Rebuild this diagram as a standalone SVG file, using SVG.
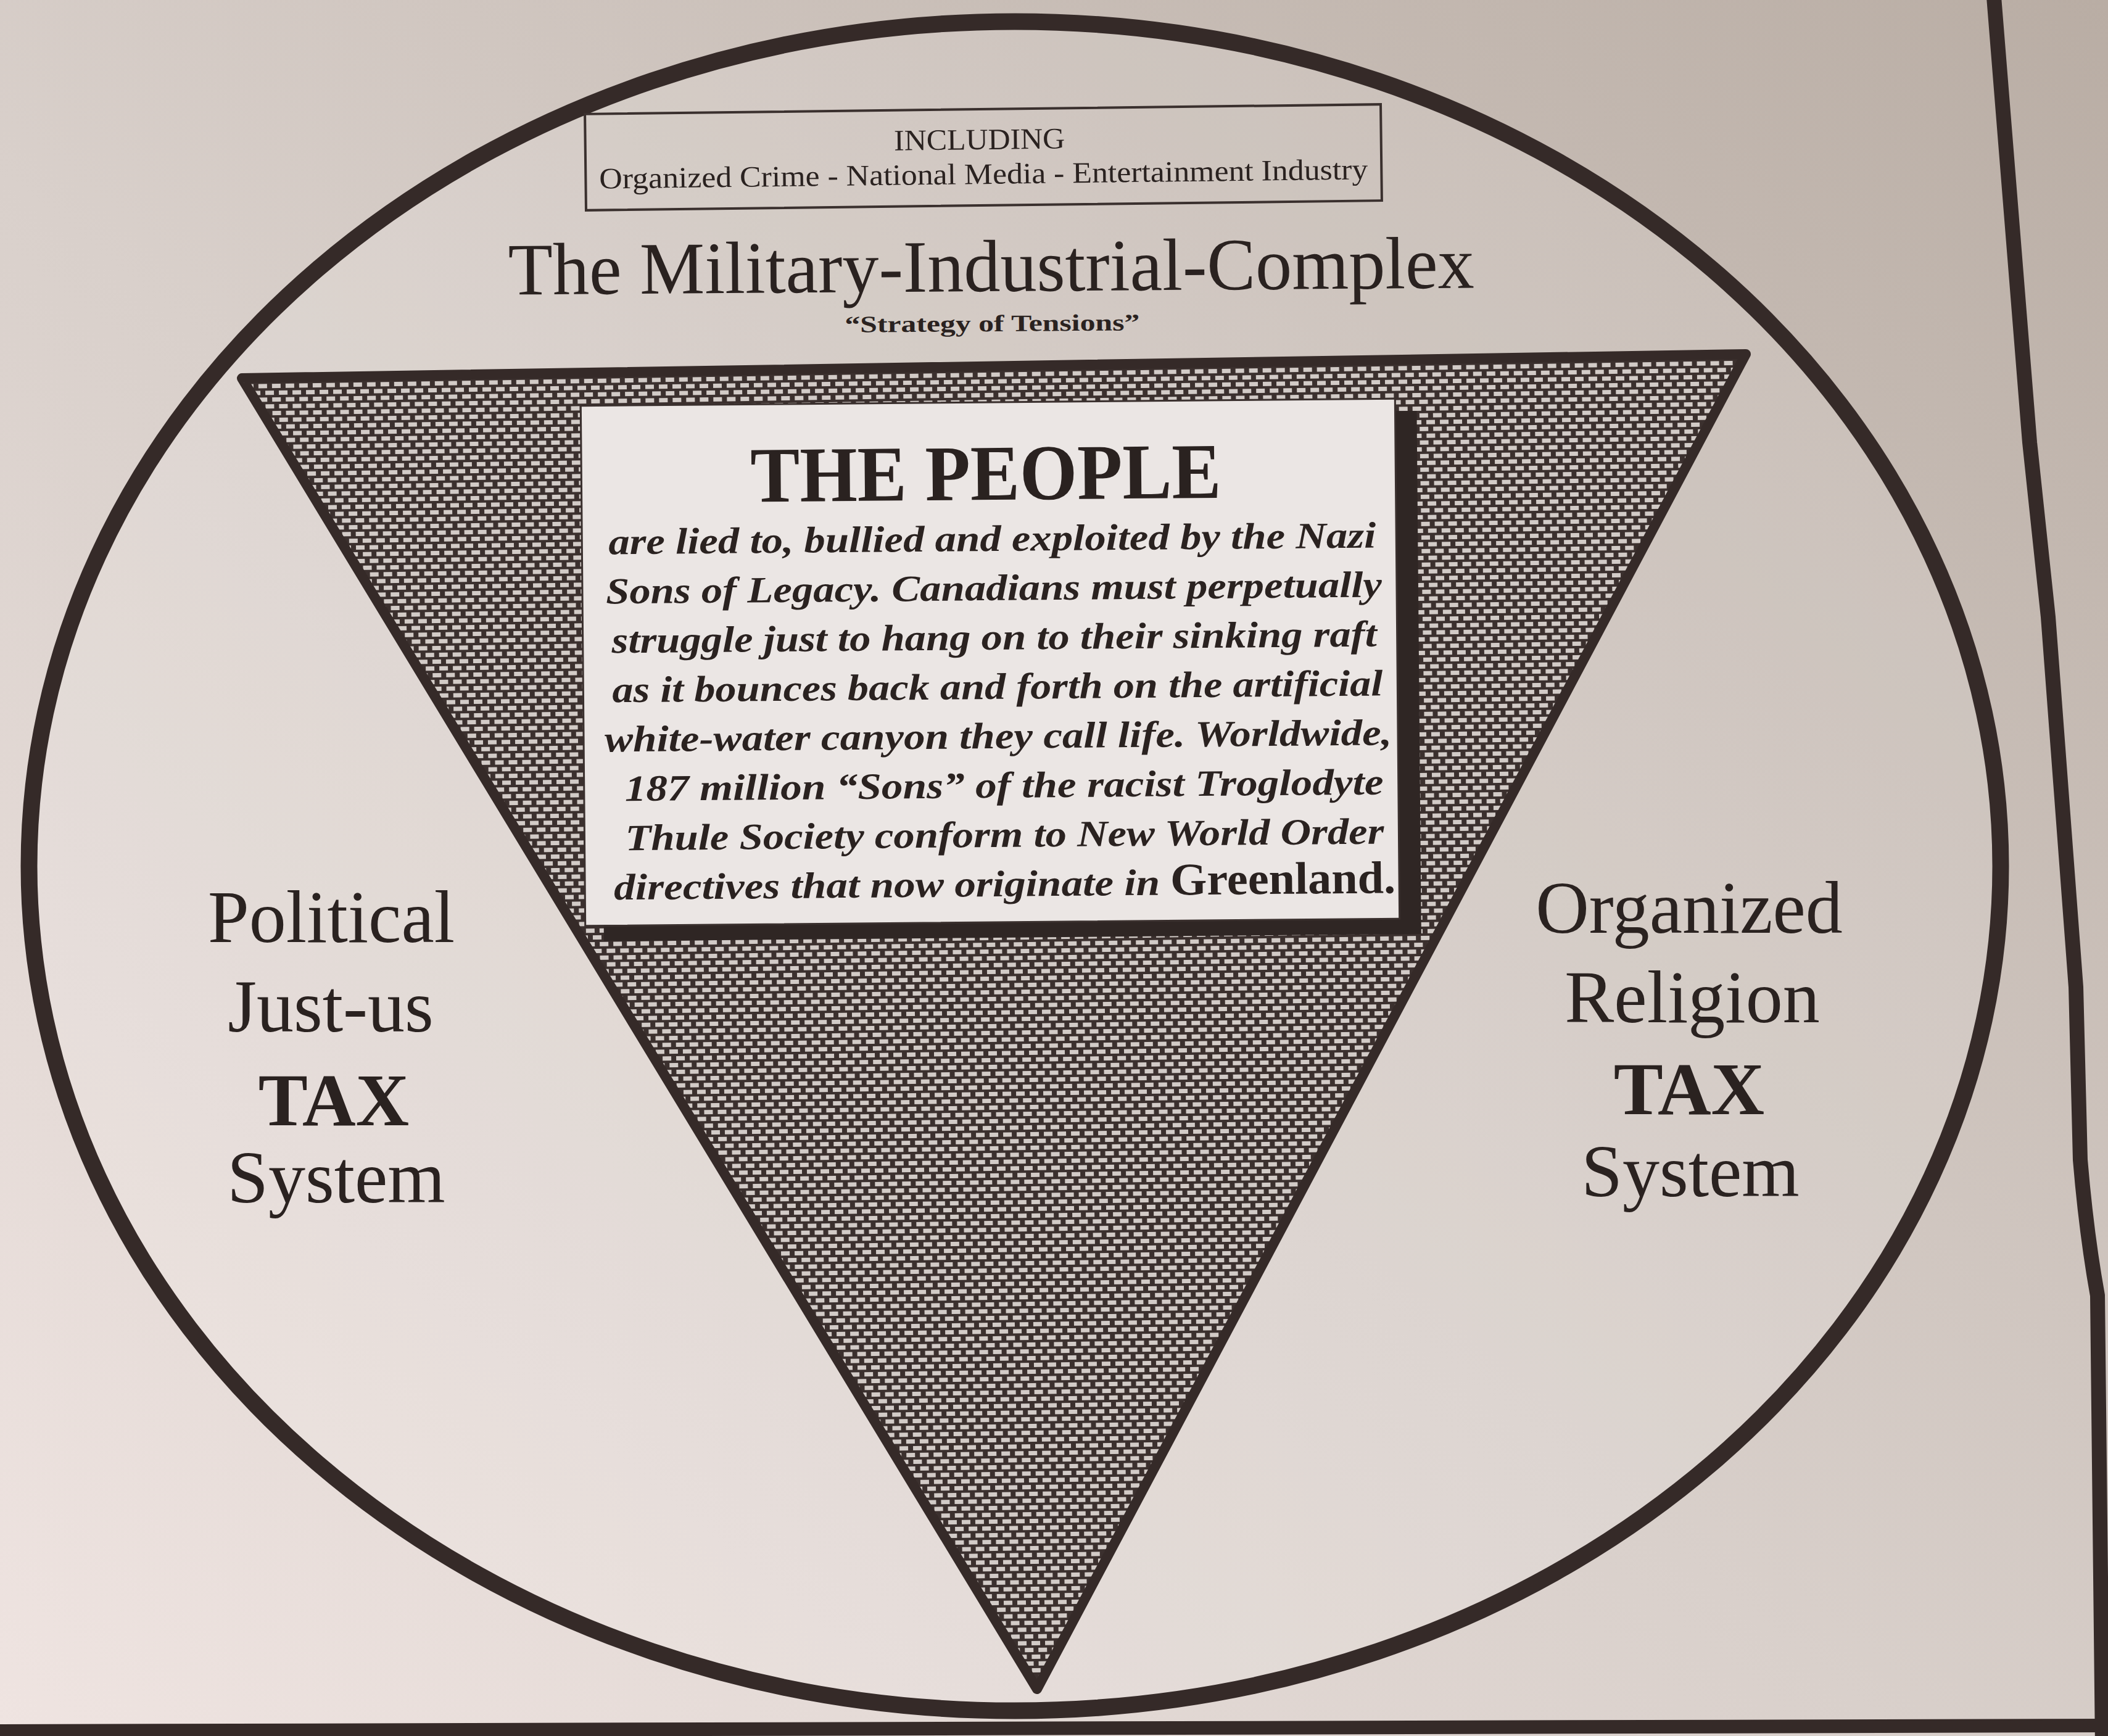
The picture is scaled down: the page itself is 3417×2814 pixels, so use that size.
<svg xmlns="http://www.w3.org/2000/svg" width="3417" height="2814" viewBox="0 0 3417 2814">
  <defs>
    <linearGradient id="paper" x1="0" y1="1" x2="1" y2="0">
      <stop offset="0" stop-color="#efe4e1"/>
      <stop offset="0.45" stop-color="#d9d0cb"/>
      <stop offset="1" stop-color="#b9ada4"/>
    </linearGradient>
    <pattern id="brick" patternUnits="userSpaceOnUse" width="22" height="22" patternTransform="rotate(-0.9)">
      <rect width="22" height="22" fill="#3b302e"/>
      <rect x="2" y="2" width="14" height="7" fill="#d2cbc7"/>
      <rect x="13" y="13" width="14" height="7" fill="#d2cbc7"/>
      <rect x="-9" y="13" width="14" height="7" fill="#d2cbc7"/>
    </pattern>
    <style>
      .ink { fill: #2a2220; }
      .serif { font-family: "Liberation Serif", "Times New Roman", serif; }
      .stroke { stroke: #352a28; fill: none; }
      .side { font-family: "Liberation Serif", "Times New Roman", serif; font-size: 120px; fill: #2a2220; text-anchor: middle; }
      .body { font-family: "Liberation Serif", "Times New Roman", serif; font-size: 60px; font-weight: bold; font-style: italic; fill: #2a2220; }
    </style>
  </defs>

  <!-- paper background -->
  <rect width="3417" height="2814" fill="url(#paper)"/>

  <!-- page frame -->
  <g id="frame">
    <path class="stroke" stroke-width="24" d="M3232,-5 L3290,717 L3320,1000 L3365,1600 L3372,1880 Q3382,2000 3400,2100 L3408,2830"/>
    <path class="stroke" stroke-width="22" d="M-10,2806 L3430,2797"/>
  </g>

  <!-- big circle -->
  <g id="circle">
    <ellipse cx="1645" cy="1404" rx="1598" ry="1369" fill-opacity="0.12" class="stroke" stroke-width="27" style="fill:#ffffff"/>
  </g>

  <!-- inverted triangle -->
  <g id="triangle">
    <polygon points="392,613 2830,574 1681,2738" fill="url(#brick)" stroke="#352a28" stroke-width="16" stroke-linejoin="round"/>
  </g>

  <!-- top box -->
  <g id="including-box" transform="rotate(-0.7 1594 255)">
    <rect x="949" y="177" width="1290" height="156" fill="none" stroke="#3a302e" stroke-width="4"/>
    <text class="serif ink" x="1588" y="242" font-size="48" text-anchor="middle" textLength="277" lengthAdjust="spacingAndGlyphs">INCLUDING</text>
    <text class="serif ink" x="971" y="298" font-size="48" textLength="1246" lengthAdjust="spacingAndGlyphs">Organized Crime - National Media - Entertainment Industry</text>
  </g>

  <!-- title -->
  <g id="title" transform="rotate(-0.4 1607 480)">
    <text class="serif ink" x="824" y="472" font-size="120" textLength="1566" lengthAdjust="spacingAndGlyphs">The Military-Industrial-Complex</text>
    <text class="serif ink" x="1369" y="537" font-size="38" font-weight="bold" textLength="478" lengthAdjust="spacingAndGlyphs">“Strategy of Tensions”</text>
  </g>

  <!-- the people box -->
  <g id="people-box" transform="rotate(-0.5 1605 1073)">
    <rect x="975" y="672" width="1325" height="848" fill="#2f2624"/>
    <rect x="945" y="652" width="1320" height="843" fill="#ebe6e4" stroke="#3a302e" stroke-width="3"/>
    <text class="serif ink" x="1219" y="810" font-size="128" font-weight="bold" textLength="763" lengthAdjust="spacingAndGlyphs">THE PEOPLE</text>
    <text class="body" x="988" y="893" textLength="1244" lengthAdjust="spacingAndGlyphs">are lied to, bullied and exploited by the Nazi</text>
    <text class="body" x="983" y="973" textLength="1258" lengthAdjust="spacingAndGlyphs">Sons of Legacy. Canadians must perpetually</text>
    <text class="body" x="992" y="1053" textLength="1240" lengthAdjust="spacingAndGlyphs">struggle just to hang on to their sinking raft</text>
    <text class="body" x="992" y="1133" textLength="1249" lengthAdjust="spacingAndGlyphs">as it bounces back and forth on the artificial</text>
    <text class="body" x="979" y="1213" textLength="1276" lengthAdjust="spacingAndGlyphs">white-water canyon they call life.  Worldwide,</text>
    <text class="body" x="1011" y="1293" textLength="1230" lengthAdjust="spacingAndGlyphs">187 million “Sons” of the racist Troglodyte</text>
    <text class="body" x="1011" y="1373" textLength="1230" lengthAdjust="spacingAndGlyphs">Thule Society conform to New World Order</text>
    <text class="body" x="992" y="1453" textLength="885" lengthAdjust="spacingAndGlyphs">directives that now originate in</text>
    <text class="serif ink" x="1894" y="1453" font-size="74" font-weight="bold" textLength="365" lengthAdjust="spacingAndGlyphs">Greenland.</text>
  </g>

  <!-- left label -->
  <g id="left-label">
    <text class="side" x="537" y="1527">Political</text>
    <text class="side" x="536" y="1672">Just-us</text>
    <text class="side" x="541" y="1824" font-weight="bold">TAX</text>
    <text class="side" x="545" y="1949">System</text>
  </g>

  <!-- right label -->
  <g id="right-label">
    <text class="side" x="2738" y="1512">Organized</text>
    <text class="side" x="2743" y="1657">Religion</text>
    <text class="side" x="2738" y="1806" font-weight="bold">TAX</text>
    <text class="side" x="2740" y="1939">System</text>
  </g>

  <g id="connectors"/>
</svg>
